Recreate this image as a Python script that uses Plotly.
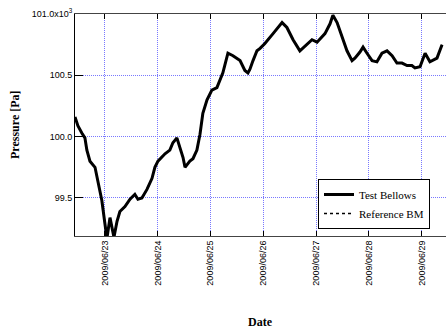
import pandas as pd
import plotly.graph_objects as go

# hours since 2009-06-22 00:00
hours = [10.4, 11.7, 13.5, 14.9, 15.8, 17.2, 19.5, 20.8, 22.6, 24.0, 24.9, 26.3, 27.2,
         28.1, 29.5, 30.8, 33.1, 35.4, 37.6, 39.0, 40.8, 43.1, 45.4, 46.7, 48.1, 51.3,
         53.5, 54.9, 56.7, 58.1, 59.5, 60.4, 62.6, 64.0, 65.8, 67.2, 68.5, 70.4, 72.6,
         74.9, 77.6, 79.9, 82.2, 85.4, 87.6, 89.0, 89.9, 91.3, 93.1, 94.5, 96.7, 100.4,
         104.5, 106.7, 109.5, 112.6, 115.8, 118.1, 120.4, 124.0, 126.3, 127.6, 129.5,
         131.7, 134.0, 136.3, 137.6, 139.9, 141.3, 143.1, 145.4, 147.6, 149.9, 152.2,
         154.5, 156.7, 159.0, 161.3, 163.5, 164.9, 167.2, 169.5, 171.7, 174.9, 177.2]

# pressure in kPa (x10^3 Pa)
test_bellows = [100.16, 100.09, 100.03, 99.99, 99.89, 99.80, 99.75, 99.64, 99.48, 99.29,
                99.17, 99.34, 99.26, 99.18, 99.31, 99.39, 99.43, 99.49, 99.53, 99.49,
                99.50, 99.57, 99.66, 99.75, 99.80, 99.86, 99.89, 99.95, 99.99, 99.91,
                99.83, 99.75, 99.80, 99.82, 99.89, 100.02, 100.19, 100.30, 100.38, 100.40,
                100.52, 100.68, 100.66, 100.62, 100.54, 100.52, 100.55, 100.62, 100.70,
                100.72, 100.76, 100.84, 100.93, 100.89, 100.79, 100.70, 100.75, 100.79,
                100.77, 100.84, 100.92, 100.99, 100.93, 100.81, 100.70, 100.62, 100.64,
                100.69, 100.73, 100.68, 100.62, 100.61, 100.68, 100.70, 100.66, 100.60,
                100.60, 100.58, 100.58, 100.56, 100.57, 100.68, 100.61, 100.64, 100.75]
reference_bm = list(test_bellows)

ytick_vals = [99.5, 100.0, 100.5, 101.0]
ytick_text = ["99.5", "100.0", "100.5", "101.0x10<sup>3</sup>"]

start = pd.Timestamp("2009-06-22")
times = [start + pd.Timedelta(hours=h) for h in hours]

fig = go.Figure()
fig.add_trace(go.Scatter(x=times, y=reference_bm, mode="lines", name="Reference BM",
                         line=dict(color="black", width=1.5, dash="dot")))
fig.add_trace(go.Scatter(x=times, y=test_bellows, mode="lines", name="Test Bellows",
                         line=dict(color="black", width=3)))

fig.update_layout(
    width=446, height=333,
    margin=dict(l=75, r=0, t=14, b=97),
    plot_bgcolor="white", paper_bgcolor="white",
    showlegend=True,
    legend=dict(x=(318 - 75) / 371, y=(236 - 229) / 222, xanchor="left", yanchor="bottom",
                bgcolor="white", bordercolor="black", borderwidth=1,
                font=dict(family="Liberation Serif", size=11, color="black"),
                traceorder="reversed", tracegroupgap=0,
                itemwidth=30),
    font=dict(family="Liberation Sans", size=9, color="black"),
)

grid_color = "rgb(120,120,255)"
fig.update_xaxes(
    type="date",
    range=[start + pd.Timedelta(hours=10.4), start + pd.Timedelta(hours=179.0)],
    tickformat="%Y/%m/%d", dtick=86400000, tick0="2009-06-23",
    tickangle=-90, ticks="inside", ticklen=5, tickcolor="black",
    showline=True, linecolor="#444", linewidth=1, mirror="ticks",
    showgrid=True, gridcolor=grid_color, griddash="1px,1px", gridwidth=1,
    tickfont=dict(family="Liberation Sans", size=9),
    zeroline=False,
)
fig.update_yaxes(
    range=[99.19, 101.0],
    tickvals=ytick_vals, ticktext=ytick_text,
    ticks="inside", ticklen=8, tickcolor="black",
    showline=True, linecolor="black", linewidth=1,
    showgrid=True, gridcolor=grid_color, griddash="1px,1px", gridwidth=1,
    tickfont=dict(family="Liberation Sans", size=9),
    zeroline=False,
)

fig.add_annotation(text="<b>Pressure [Pa]</b>", xref="paper", yref="paper",
                   x=-(75 - 15) / 371, y=(236 - 125) / 222,
                   xanchor="center", yanchor="middle",
                   showarrow=False, textangle=-90,
                   font=dict(family="Liberation Serif", size=12))
fig.add_annotation(text="<b>Date</b>", xref="paper", yref="paper",
                   x=(260 - 75) / 371, y=-(322 - 236) / 222,
                   xanchor="center", yanchor="middle",
                   showarrow=False, font=dict(family="Liberation Serif", size=12))

fig.write_html("out.html", config={"displayModeBar": False},
               post_script="document.body.style.margin='0';document.body.style.overflow='hidden';")
